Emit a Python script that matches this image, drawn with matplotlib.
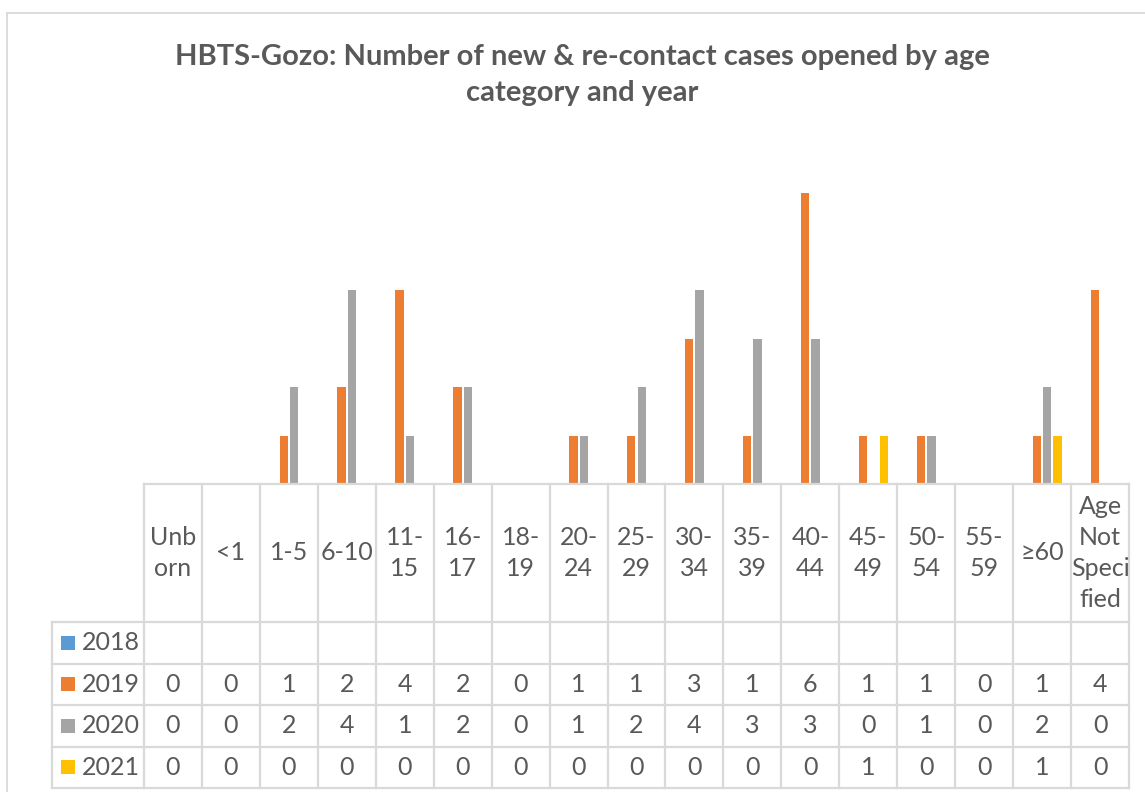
import numpy as np
import matplotlib
matplotlib.use('Agg')
import matplotlib.pyplot as plt
from matplotlib.lines import Line2D
from matplotlib.patches import Rectangle

plt.rcParams['font.family'] = ['Lato', 'DejaVu Sans']

# data
categories = ['Unb\norn', '<1', '1-5', '6-10', '11-\n15', '16-\n17', '18-\n19',
              '20-\n24', '25-\n29', '30-\n34', '35-\n39', '40-\n44', '45-\n49',
              '50-\n54', '55-\n59', '≥60', 'Age\nNot\nSpeci\nfied']
years = ['2018', '2019', '2020', '2021']
y2018 = [None] * 17   # no values in the table
y2019 = [0, 0, 1, 2, 4, 2, 0, 1, 1, 3, 1, 6, 1, 1, 0, 1, 4]
y2020 = [0, 0, 2, 4, 1, 2, 0, 1, 2, 4, 3, 3, 0, 1, 0, 2, 0]
y2021 = [0, 0, 0, 0, 0, 0, 0, 0, 0, 0, 0, 0, 1, 0, 0, 1, 0]
series = [y2018, y2019, y2020, y2021]
colors = ['#5B9BD5', '#ED7D31', '#A5A5A5', '#FFC000']

txt = '#595959'
grid = '#D9D9D9'
W, H = 1145, 792
fs = 18

fig = plt.figure(figsize=(W / 100, H / 100), dpi=100)

# outer chart frame (only top and left edges are in view)
fig.add_artist(Line2D([7 / W, 7 / W], [0, 1 - 13 / H], color=grid, lw=1.3))
fig.add_artist(Line2D([7 / W, 1], [1 - 13 / H, 1 - 13 / H], color=grid, lw=1.3))

fig.text(582 / W, 1 - 75 / H,
         'HBTS-Gozo: Number of new & re-contact cases opened by age\ncategory and year',
         ha='center', va='center', fontsize=21, fontweight='bold', color=txt,
         linespacing=1.5)

# bars
n = len(categories)
x = np.arange(n)
col_w = 985 / n
ax = fig.add_axes([144 / W, (H - 484) / H, 985 / W, 339.5 / H])
pitch = 0.178
bw = 0.143
for k, (vals, c) in enumerate(zip(series, colors)):
    v = np.array([np.nan if a is None else a for a in vals], dtype=float)
    ax.bar(x + (k - 1.5) * pitch, v, width=bw, color=c, edgecolor='none')
ax.set_xlim(-0.5, n - 0.5)
ax.set_ylim(0, 7)
ax.axis('off')

# data table
lab_left = -0.5 - 92 / col_w
tab = fig.add_axes([52 / W, (H - 788) / H, (1129 - 52) / W, (788 - 484) / H])
tab.set_xlim(lab_left, n - 0.5)
tab.set_ylim(788, 484)
tab.axis('off')
rows = [484, 622, 663.5, 705, 746.5, 788]

lk = dict(color=grid, lw=1.6, clip_on=False, solid_capstyle='projecting')
tab.plot([-0.5, n - 0.5], [rows[0], rows[0]], **lk)
for r in rows[1:]:
    tab.plot([lab_left, n - 0.5], [r, r], **lk)
for b in np.arange(-0.5, n):
    tab.plot([b, b], [rows[0], rows[-1]], **lk)
tab.plot([lab_left, lab_left], [rows[1], rows[-1]], **lk)

hy = (rows[0] + rows[1]) / 2
for i, c in enumerate(categories):
    tab.text(i, hy, c, ha='center', va='center', fontsize=fs, color=txt,
             linespacing=1.42)

px = lambda p: (p - 144) / col_w - 0.5
for k, (yr, vals, c) in enumerate(zip(years, series, colors)):
    cy = (rows[k + 1] + rows[k + 2]) / 2
    tab.add_patch(Rectangle((px(61), cy - 7), px(75) - px(61), 14,
                            facecolor=c, edgecolor='none', clip_on=False))
    tab.text(px(82), cy, yr, ha='left', va='center', fontsize=fs, color=txt)
    for i, v in enumerate(vals):
        if v is not None:
            tab.text(i, cy, str(v), ha='center', va='center', fontsize=fs,
                     color=txt)

fig.savefig('out.png', dpi=100)
